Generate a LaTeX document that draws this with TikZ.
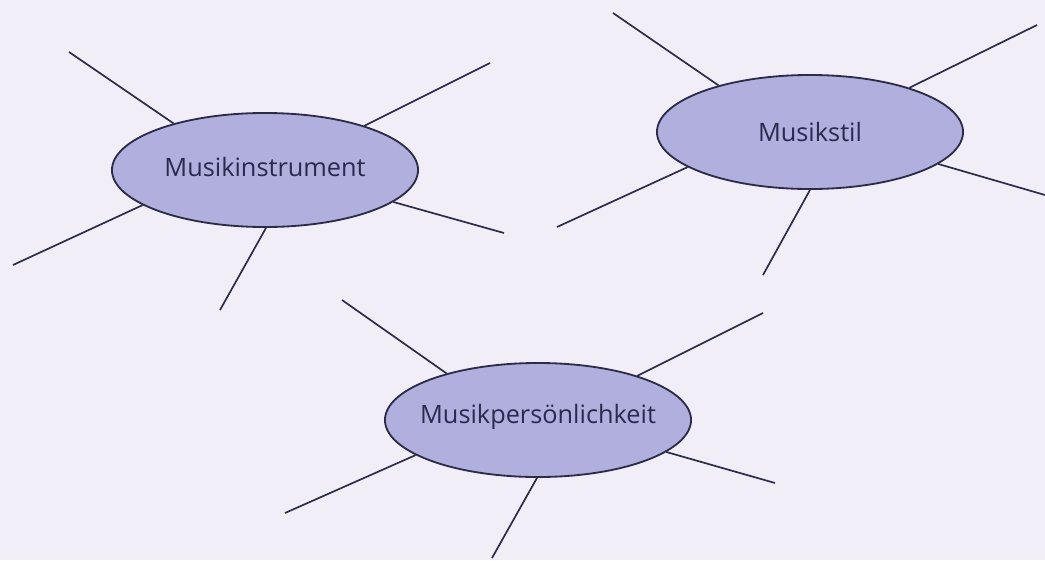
\documentclass[tikz,border=0pt]{standalone}
\usepackage{fontspec}
\setsansfont{Open Sans}
\usetikzlibrary{shapes.geometric}
\definecolor{paperbg}{HTML}{F1EEF8}
\definecolor{topicfill}{HTML}{B1AFDD}
\definecolor{inkline}{HTML}{2C2C48}
\definecolor{inktext}{HTML}{2A2A4E}
\begin{document}
\begin{tikzpicture}[x=0.025cm,y=-0.025cm,
  topic/.style={ellipse,draw=inkline,fill=topicfill,line width=1.3pt,minimum width=7.65cm,minimum height=2.85cm,inner sep=0pt},
  topictext/.style={text=inktext,font=\sffamily\fontsize{18}{21}\selectfont},
  spoke/.style={draw=inkline,line width=1.2pt}]

\fill [paperbg] (0,0) rectangle (1045,560);
\useasboundingbox (0,0) rectangle (1045,560);

\node [topic,label={[topictext,yshift=2pt]center:Musikinstrument}] (instr) at (265,170) {};
\node [topic,label={[topictext]center:Musikstil}] (stil) at (810,132) {};
\node [topic,label={[topictext,yshift=2pt]center:Musikpersönlichkeit}] (pers) at (538,420) {};

% free ends of the spokes
\coordinate (instr-tl) at (69,52);
\coordinate (instr-tr) at (490,63);
\coordinate (instr-r) at (504,233);
\coordinate (instr-bl) at (13,265);
\coordinate (instr-b) at (220,310);
\coordinate (stil-tl) at (613,13);
\coordinate (stil-tr) at (1037,25);
\coordinate (stil-r) at (1045,195);
\coordinate (stil-bl) at (557,227);
\coordinate (stil-b) at (763,275);
\coordinate (pers-tl) at (342,300);
\coordinate (pers-tr) at (763,313);
\coordinate (pers-r) at (775,483);
\coordinate (pers-bl) at (285,513);
\coordinate (pers-b) at (492,558);

\draw [spoke] (instr.153) -- (instr-tl);
\draw [spoke] (instr.24) -- (instr-tr);
\draw [spoke] (instr.-14) -- (instr-r);
\draw [spoke] (instr.-164) -- (instr-bl);
\draw [spoke] (instr.-89) -- (instr-b);
\draw [spoke] (stil.153) -- (stil-tl);
\draw [spoke] (stil.24) -- (stil-tr);
\draw [spoke] (stil.-14) -- (stil-r);
\draw [spoke] (stil.-164) -- (stil-bl);
\draw [spoke] (stil.-90) -- (stil-b);
\draw [spoke] (pers.153) -- (pers-tl);
\draw [spoke] (pers.24) -- (pers-tr);
\draw [spoke] (pers.-14) -- (pers-r);
\draw [spoke] (pers.-164) -- (pers-bl);
\draw [spoke] (pers.-91) -- (pers-b);
\end{tikzpicture}
\end{document}
